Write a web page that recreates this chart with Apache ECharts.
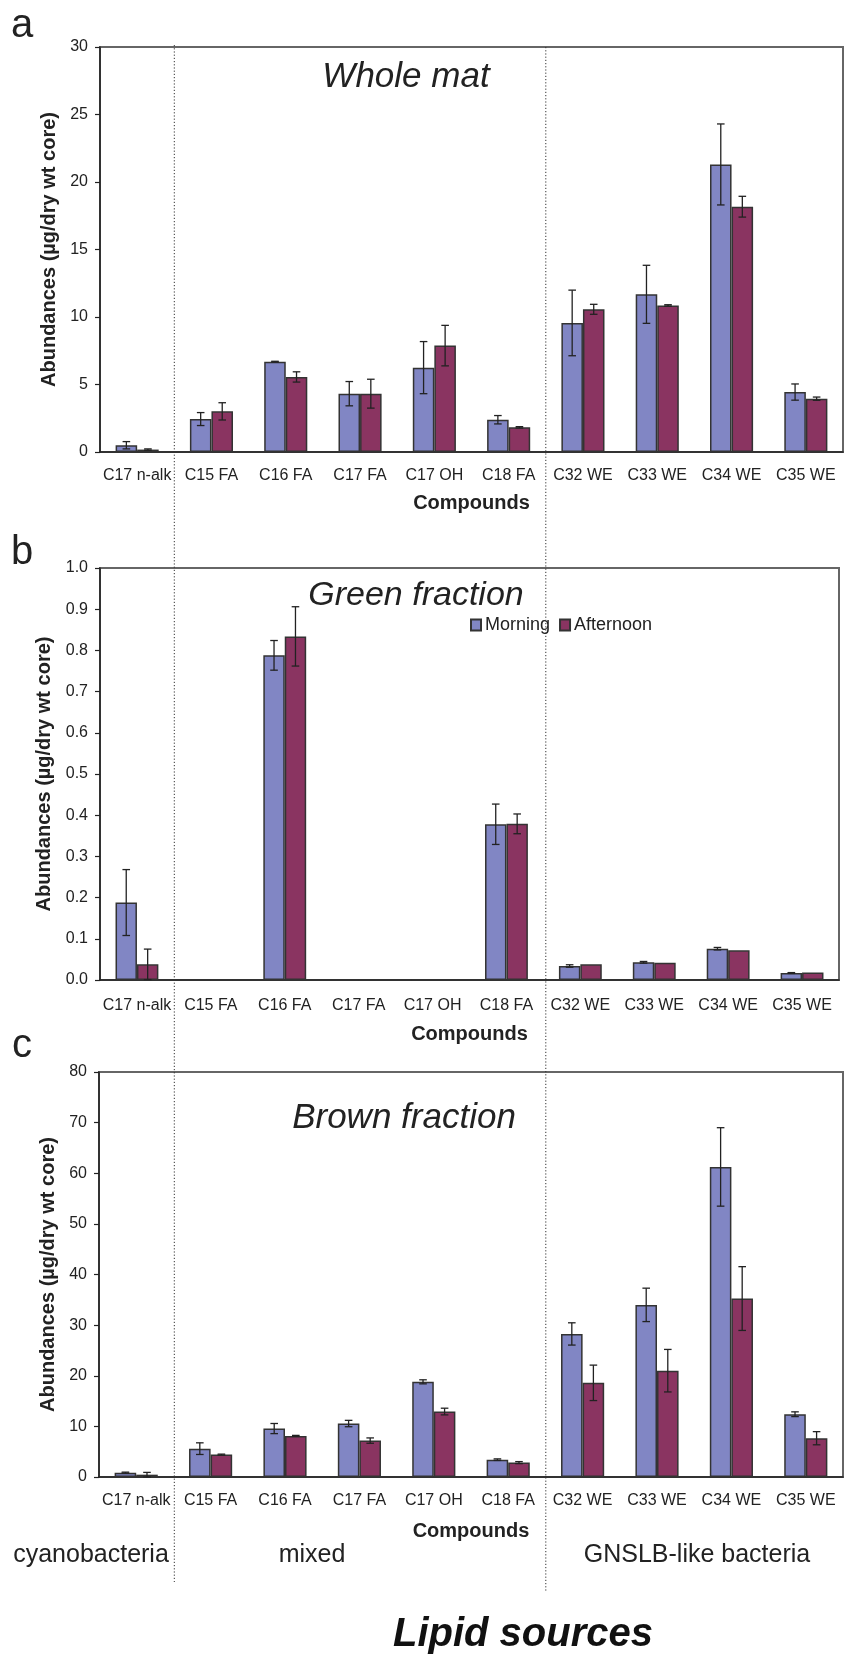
<!DOCTYPE html>
<html>
<head>
<meta charset="utf-8">
<script src="https://cdn.jsdelivr.net/npm/echarts@6/dist/echarts.min.js"></script>
<style>
  html, body { margin: 0; padding: 0; background: #fff; }
  #chart { width: 846px; height: 1655px; }
</style>
</head>
<body>
<div id="chart"></div>
<script>
const compounds = ['C17 n-alk', 'C15 FA', 'C16 FA', 'C17 FA', 'C17 OH', 'C18 FA', 'C32 WE', 'C33 WE', 'C34 WE', 'C35 WE'];

// a: whole mat
const wholeMorning = [0.5, 2.44, 6.69, 4.32, 6.25, 2.39, 9.56, 11.68, 21.3, 4.44];
const wholeMorningErr = [0.27, 0.48, 0.03, 0.9, 1.93, 0.31, 2.43, 2.15, 3.0, 0.6];
const wholeAfternoon = [0.18, 3.01, 5.56, 4.32, 7.88, 1.83, 10.57, 10.86, 18.17, 3.95];
const wholeAfternoonErr = [0.05, 0.64, 0.38, 1.07, 1.5, 0.05, 0.37, 0.05, 0.77, 0.12];

// b: green fraction
const greenMorning = [0.188, 0, 0.788, 0, 0, 0.378, 0.034, 0.043, 0.076, 0.017];
const greenMorningErr = [0.08, 0, 0.036, 0, 0, 0.049, 0.003, 0.002, 0.003, 0.001];
const greenAfternoon = [0.038, 0, 0.834, 0, 0, 0.379, 0.038, 0.042, 0.072, 0.018];
const greenAfternoonErr = [0.037, 0, 0.072, 0, 0, 0.024, 0, 0, 0, 0];

// c: brown fraction
const brownMorning = [0.86, 5.6, 9.57, 10.56, 18.8, 3.43, 28.26, 34.0, 61.25, 12.4];
const brownMorningErr = [0.1, 1.15, 1.0, 0.63, 0.4, 0.15, 2.2, 3.3, 7.75, 0.47];
const brownAfternoon = [0.46, 4.42, 8.12, 7.19, 12.93, 2.84, 18.6, 21.0, 35.25, 7.66];
const brownAfternoonErr = [0.45, 0.1, 0.1, 0.53, 0.66, 0.2, 3.5, 4.2, 6.3, 1.3];

const panelTitles = ['Whole mat', 'Green fraction', 'Brown fraction'];
const sourceGroups = ['cyanobacteria', 'mixed', 'GNSLB-like bacteria'];

const FONT = '"Liberation Sans", Arial, Helvetica, sans-serif';
const INK = '#222';
const MORNING = '#8186C4';
const AFTERNOON = '#8A3461';
const BAR_FRAC = 0.58; // 1 - barCategoryGap

const chart = echarts.init(document.getElementById('chart'));

const grids = [
  { left: 100, top: 47, width: 743, height: 405 },
  { left: 100, top: 568, width: 739, height: 412 },
  { left: 99, top: 1072, width: 744, height: 405 }
].map(g => Object.assign(g, { show: true, borderColor: '#666', borderWidth: 2, containLabel: false }));

const yRanges = [
  { max: 30, interval: 5, fmt: v => String(v) },
  { max: 1, interval: 0.1, fmt: v => v.toFixed(1) },
  { max: 80, interval: 10, fmt: v => String(v) }
];
const labelMargins = [16, 18, 16];
const nameGaps = [41, 44, 44];

const xAxes = grids.map((g, i) => ({
  type: 'category',
  gridIndex: i,
  data: compounds,
  name: 'Compounds',
  nameLocation: 'middle',
  nameGap: nameGaps[i],
  nameTextStyle: { fontFamily: FONT, fontSize: 20, fontWeight: 'bold', color: INK, verticalAlign: 'top' },
  axisLine: { lineStyle: { color: INK, width: 1.5 } },
  axisTick: { length: 6, lineStyle: { color: INK, width: 1.2 } },
  axisLabel: { interval: 0, margin: labelMargins[i], fontFamily: FONT, fontSize: 16, color: INK },
  splitLine: { show: false }
}));

const yAxes = yRanges.map((r, i) => ({
  type: 'value',
  gridIndex: i,
  min: 0,
  max: r.max,
  interval: r.interval,
  name: 'Abundances (\u00b5g/dry wt core)',
  nameLocation: 'middle',
  nameRotate: 90,
  nameGap: 40,
  nameTextStyle: { fontFamily: FONT, fontSize: 20, fontWeight: 'bold', color: INK },
  axisLine: { show: true, lineStyle: { color: INK, width: 1.5 } },
  axisTick: { show: true, length: 5, lineStyle: { color: INK, width: 1.2 } },
  axisLabel: { margin: 12, fontFamily: FONT, fontSize: 16, color: INK, formatter: r.fmt },
  splitLine: { show: false }
}));

function barSeries(name, color, data, idx) {
  return {
    name,
    type: 'bar',
    xAxisIndex: idx,
    yAxisIndex: idx,
    data,
    barGap: '0%',
    barCategoryGap: '42%',
    itemStyle: { color, borderColor: '#333', borderWidth: 1.5 },
    silent: true,
    z: 2
  };
}

// side: -1 for left (morning) bar, +1 for right (afternoon) bar
function errorSeries(values, errs, side, idx) {
  return {
    type: 'custom',
    xAxisIndex: idx,
    yAxisIndex: idx,
    silent: true,
    z: 5,
    data: values.map((v, i) => [i, v - errs[i], v + errs[i], errs[i]]),
    renderItem: (params, api) => {
      if (!api.value(3)) return;
      const lo = api.coord([api.value(0), Math.max(0, api.value(1))]);
      const hi = api.coord([api.value(0), api.value(2)]);
      const bw = api.size([1, 0])[0] * BAR_FRAC / 2;
      const x = lo[0] + side * bw / 2;
      const cap = 3.8;
      const style = { stroke: INK, lineWidth: 1.3 };
      return {
        type: 'group',
        children: [
          { type: 'line', shape: { x1: x, y1: lo[1], x2: x, y2: hi[1] }, style },
          { type: 'line', shape: { x1: x - cap, y1: hi[1], x2: x + cap, y2: hi[1] }, style },
          { type: 'line', shape: { x1: x - cap, y1: lo[1], x2: x + cap, y2: lo[1] }, style }
        ]
      };
    }
  };
}

const panels = [
  [wholeMorning, wholeMorningErr, wholeAfternoon, wholeAfternoonErr],
  [greenMorning, greenMorningErr, greenAfternoon, greenAfternoonErr],
  [brownMorning, brownMorningErr, brownAfternoon, brownAfternoonErr]
];

const series = [];
panels.forEach(([m, me, a, ae], i) => {
  series.push(barSeries('Morning', MORNING, m, i));
  series.push(barSeries('Afternoon', AFTERNOON, a, i));
  series.push(errorSeries(m, me, -1, i));
  series.push(errorSeries(a, ae, 1, i));
});

function txt(text, x, y, size, extra) {
  return {
    type: 'text',
    x, y,
    silent: true,
    z: 20,
    style: Object.assign({
      text, fontFamily: FONT, fontSize: size, fill: INK,
      align: 'center', verticalAlign: 'middle'
    }, extra || {})
  };
}

const labels = [
  txt('a', 22, 26, 40),
  txt('b', 22, 553, 40),
  txt('c', 22, 1046, 40),
  txt(panelTitles[0], 406, 77, 35, { fontStyle: 'italic' }),
  txt(panelTitles[1], 416, 596, 34, { fontStyle: 'italic' }),
  txt(panelTitles[2], 404, 1118, 35, { fontStyle: 'italic' }),
  txt(sourceGroups[0], 91, 1555, 25),
  txt(sourceGroups[1], 312, 1555, 25),
  txt(sourceGroups[2], 697, 1555, 25),
  txt('Lipid sources', 523, 1635, 40, { fontStyle: 'italic', fontWeight: 'bold', fill: '#111' })
];

chart.setOption({
  animation: false,
  backgroundColor: '#fff',
  textStyle: { fontFamily: FONT },
  grid: grids,
  xAxis: xAxes,
  yAxis: yAxes,
  legend: {
    data: ['Morning', 'Afternoon'],
    left: 470,
    top: 616,
    padding: 0,
    itemWidth: 10,
    itemHeight: 11,
    itemGap: 9,
    icon: 'rect',
    textStyle: { fontFamily: FONT, fontSize: 18, color: INK, padding: [0, 0, 0, -1] }
  },
  series,
  graphic: labels
});

// dotted separators between source groups, at the category boundaries of panel a
const boundary = (a, b) => (chart.convertToPixel({ xAxisIndex: 0 }, a) + chart.convertToPixel({ xAxisIndex: 0 }, b)) / 2;
const sepLeft = boundary(0, 1);
const sepRight = boundary(5, 6);
const dotted = { stroke: '#333', lineWidth: 1, lineDash: [1.2, 2] };
chart.setOption({
  graphic: labels.concat([
    { type: 'line', silent: true, z: 1, shape: { x1: sepLeft, y1: 45, x2: sepLeft, y2: 1582 }, style: dotted },
    { type: 'line', silent: true, z: 1, shape: { x1: sepRight, y1: 47, x2: sepRight, y2: 1592 }, style: dotted }
  ])
});
</script>
</body>
</html>
